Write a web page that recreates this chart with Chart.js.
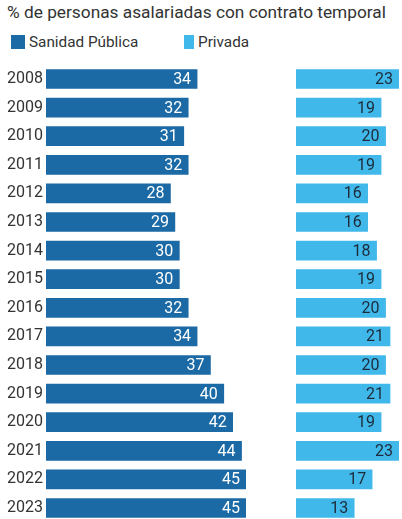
<!DOCTYPE html>
<html>
<head>
<meta charset="utf-8">
<script src="https://cdn.jsdelivr.net/npm/chart.js@4"></script>
<style>
  html, body { margin: 0; padding: 0; background: #fff; overflow: hidden; }
  body { width: 402px; height: 519px; position: relative; font-family: Roboto, "Liberation Sans", sans-serif; color: #333; }
  #title { position: absolute; left: 7px; top: 2px; font-size: 17.3px; white-space: nowrap; }
  .key { position: absolute; top: 33px; font-size: 15.3px; white-space: nowrap; }
  .key span { display: inline-block; width: 14px; height: 14px; vertical-align: -2px; margin-right: 4px; }
  #left { position: absolute; left: 0; top: 0; }
  #right { position: absolute; left: 296px; top: 0; }
</style>
</head>
<body>
<div id="title">% de personas asalariadas con contrato temporal</div>
<div class="key" style="left:11px"><span style="background:#1b6aa5"></span>Sanidad Pública</div>
<div class="key" style="left:184px"><span style="background:#40b8ea;width:10px"></span>Privada</div>
<canvas id="left" width="250" height="540"></canvas>
<canvas id="right" width="106" height="540"></canvas>
<script>
// years down the side
var years = ['2008','2009','2010','2011','2012','2013','2014','2015','2016','2017','2018','2019','2020','2021','2022','2023'];

// share of temporary contracts, %
var publica = [34,32,31,32,28,29,30,30,32,34,37,40,42,44,45,45];
var privada = [23,19,20,19,16,16,18,19,20,21,20,21,19,23,17,13];

// writes each value inside the end of its bar
var valueLabels = {
    id: 'valueLabels',
    afterDatasetsDraw: function(chart, args, opts) {
        var ctx = chart.ctx;
        ctx.save();
        ctx.font = '16px Roboto, "Liberation Sans", sans-serif';
        ctx.fillStyle = opts.color;
        ctx.textAlign = 'right';
        ctx.textBaseline = 'middle';
        chart.getDatasetMeta(0).data.forEach(function(bar, i) {
            ctx.fillText(chart.data.datasets[0].data[i], bar.x - 6, bar.y + 1);
        });
        ctx.restore();
    }
};

function makeChart(id, values, color, labelColor, max, showYears, pad) {
    return new Chart(document.getElementById(id), {
        type: 'bar',
        data: {
            labels: years,
            datasets: [{ data: values, backgroundColor: color, barThickness: 19 }]
        },
        options: {
            indexAxis: 'y',
            responsive: false,
            animation: false,
            layout: { padding: pad },
            plugins: {
                legend: { display: false },
                tooltip: { enabled: false },
                valueLabels: { color: labelColor }
            },
            scales: {
                x: { display: false, min: 0, max: max },
                y: {
                    display: showYears,
                    grid: { display: false, drawTicks: false },
                    border: { display: false },
                    ticks: {
                        color: '#333',
                        padding: 3,
                        font: { family: 'Roboto, "Liberation Sans", sans-serif', size: 16 }
                    },
                    afterFit: function(scale) { if (showYears) scale.width = 46; }
                }
            }
        },
        plugins: [valueLabels]
    });
}

makeChart('left', publica, '#1b6aa5', '#ffffff', 45, true, { top: 64.7, bottom: 17.7, left: 0, right: 4 });
makeChart('right', privada, '#40b8ea', '#1d2b3a', 23, false, { top: 64.7, bottom: 17.7, left: 0, right: 3 });
</script>
</body>
</html>
